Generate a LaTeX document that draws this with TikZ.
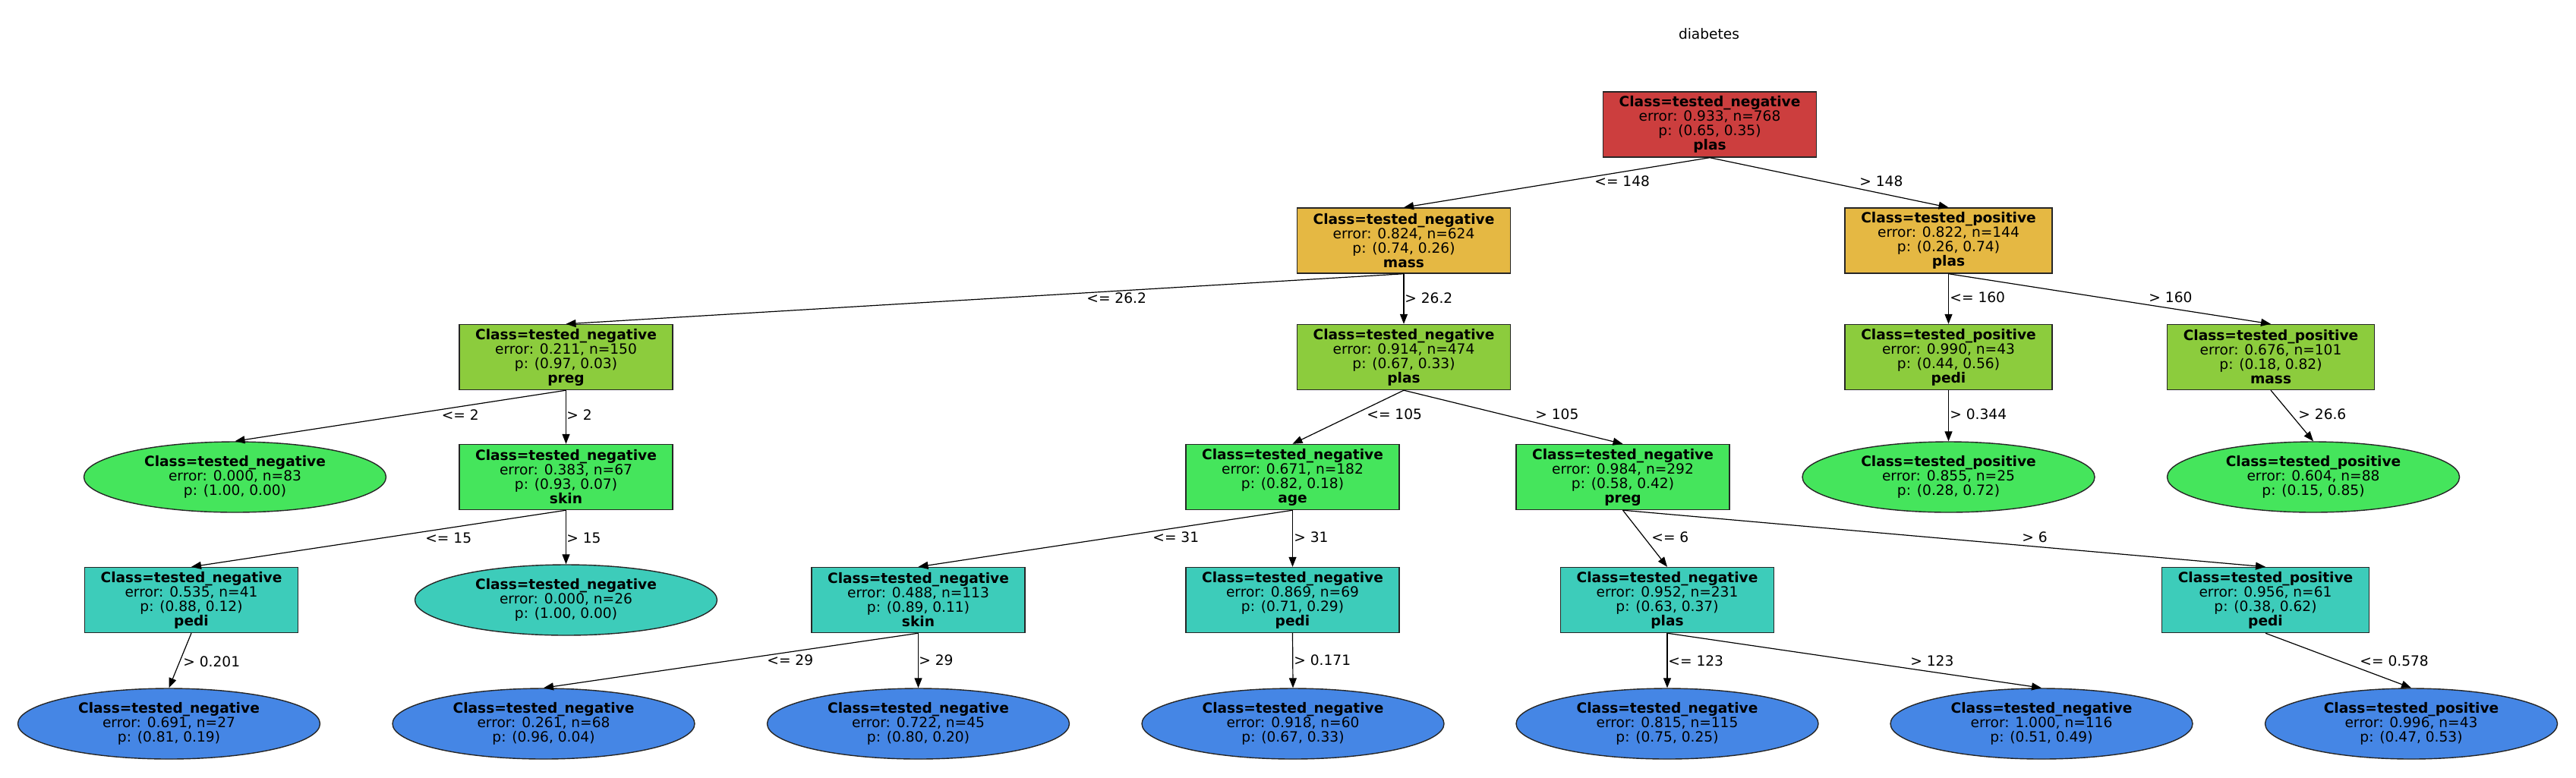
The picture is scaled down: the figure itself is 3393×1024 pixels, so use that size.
\documentclass[tikz,border=0pt]{standalone}
\usepackage{fontspec}
\setmainfont{DejaVu Sans}
\usetikzlibrary{shapes.geometric,arrows.meta}
\definecolor{cred}{RGB}{204,62,62}
\definecolor{corange}{RGB}{229,184,67}
\definecolor{clime}{RGB}{140,204,61}
\definecolor{cgreen}{RGB}{69,229,92}
\definecolor{cteal}{RGB}{61,204,186}
\definecolor{cblue}{RGB}{69,134,229}
\newcommand\boxtxt[4]{\textbf{Class=tested\_#1}\\error: #2\\p: #3\\\textbf{#4}}
\newcommand\leaftxt[3]{\textbf{Class=tested\_#1}\\error: #2\\p: #3}
\begin{document}
\begin{tikzpicture}[x=0.5pt,y=-0.5pt,
  every node/.style={font=\fontsize{9.3}{9.5}\selectfont},
  treenode/.style={draw=black!85,line width=0.7pt,align=center,inner sep=0pt},
  boxneg/.style={treenode,rectangle,minimum width=140.5pt,minimum height=43pt},
  boxpos/.style={treenode,rectangle,minimum width=136.5pt,minimum height=43pt},
  leafneg/.style={treenode,ellipse,minimum width=199pt,minimum height=46.5pt},
  leafpos/.style={treenode,ellipse,minimum width=192.5pt,minimum height=46.5pt},
  edge/.style={draw=black,line width=0.6pt,-{Triangle[length=6.5pt,width=5pt]}},
  lbl/.style={anchor=west,inner sep=0pt}]
\useasboundingbox (0,0) rectangle (3393,1024);
\node (title) at (2251,45) {diabetes};
% level 0
\node[boxneg,fill=cred] (root) at (2252,164) {\boxtxt{negative}{0.933, n=768}{(0.65, 0.35)}{plas}};
% level 1
\node[boxneg,fill=corange] (n1) at (1849,317) {\boxtxt{negative}{0.824, n=624}{(0.74, 0.26)}{mass}};
\node[boxpos,fill=corange] (n2) at (2566.5,317) {\boxtxt{positive}{0.822, n=144}{(0.26, 0.74)}{plas}};
% level 2
\node[boxneg,fill=clime] (n3) at (745.5,470.5) {\boxtxt{negative}{0.211, n=150}{(0.97, 0.03)}{preg}};
\node[boxneg,fill=clime] (n4) at (1849,470.5) {\boxtxt{negative}{0.914, n=474}{(0.67, 0.33)}{plas}};
\node[boxpos,fill=clime] (n5) at (2566.5,470.5) {\boxtxt{positive}{0.990, n=43}{(0.44, 0.56)}{pedi}};
\node[boxpos,fill=clime] (n6) at (2991,470.5) {\boxtxt{positive}{0.676, n=101}{(0.18, 0.82)}{mass}};
% level 3
\node[leafneg,fill=cgreen] (l83) at (309.5,628.5) {\leaftxt{negative}{0.000, n=83}{(1.00, 0.00)}};
\node[boxneg,fill=cgreen] (n7) at (745.5,628.5) {\boxtxt{negative}{0.383, n=67}{(0.93, 0.07)}{skin}};
\node[boxneg,fill=cgreen] (n8) at (1702.5,628.5) {\boxtxt{negative}{0.671, n=182}{(0.82, 0.18)}{age}};
\node[boxneg,fill=cgreen] (n9) at (2137.5,628.5) {\boxtxt{negative}{0.984, n=292}{(0.58, 0.42)}{preg}};
\node[leafpos,fill=cgreen] (l25) at (2566.5,628.5) {\leaftxt{positive}{0.855, n=25}{(0.28, 0.72)}};
\node[leafpos,fill=cgreen] (l88) at (3047,628.5) {\leaftxt{positive}{0.604, n=88}{(0.15, 0.85)}};
% level 4
\node[boxneg,fill=cteal] (n10) at (252,790.5) {\boxtxt{negative}{0.535, n=41}{(0.88, 0.12)}{pedi}};
\node[leafneg,fill=cteal] (l26) at (745.5,790.5) {\leaftxt{negative}{0.000, n=26}{(1.00, 0.00)}};
\node[boxneg,fill=cteal] (n11) at (1209.5,790.5) {\boxtxt{negative}{0.488, n=113}{(0.89, 0.11)}{skin}};
\node[boxneg,fill=cteal] (n12) at (1702.5,790.5) {\boxtxt{negative}{0.869, n=69}{(0.71, 0.29)}{pedi}};
\node[boxneg,fill=cteal] (n13) at (2196,790.5) {\boxtxt{negative}{0.952, n=231}{(0.63, 0.37)}{plas}};
\node[boxpos,fill=cteal] (n14) at (2984,790.5) {\boxtxt{positive}{0.956, n=61}{(0.38, 0.62)}{pedi}};
% level 5
\node[leafneg,fill=cblue] (l27) at (222.5,953.5) {\leaftxt{negative}{0.691, n=27}{(0.81, 0.19)}};
\node[leafneg,fill=cblue] (l68) at (716,953.5) {\leaftxt{negative}{0.261, n=68}{(0.96, 0.04)}};
\node[leafneg,fill=cblue] (l45) at (1209.5,953.5) {\leaftxt{negative}{0.722, n=45}{(0.80, 0.20)}};
\node[leafneg,fill=cblue] (l60) at (1703,953.5) {\leaftxt{negative}{0.918, n=60}{(0.67, 0.33)}};
\node[leafneg,fill=cblue] (l115) at (2196,953.5) {\leaftxt{negative}{0.815, n=115}{(0.75, 0.25)}};
\node[leafneg,fill=cblue] (l116) at (2689,953.5) {\leaftxt{negative}{1.000, n=116}{(0.51, 0.49)}};
\node[leafpos,fill=cblue] (l43) at (3176,953.5) {\leaftxt{positive}{0.996, n=43}{(0.47, 0.53)}};
% edges
\draw[edge] (root.south) -- (n1.north);
\draw[edge] (root.south) -- (n2.north);
\draw[edge] (n1.south) -- (n3.north);
\draw[edge] (n1.south) -- (n4.north);
\draw[edge] (n2.south) -- (n5.north);
\draw[edge] (n2.south) -- (n6.north);
\draw[edge] (n3.south) -- (l83.north);
\draw[edge] (n3.south) -- (n7.north);
\draw[edge] (n4.south) -- (n8.north);
\draw[edge] (n4.south) -- (n9.north);
\draw[edge] (n5.south) -- (l25.north);
\draw[edge] (n6.south) -- (l88.north);
\draw[edge] (n7.south) -- (n10.north);
\draw[edge] (n7.south) -- (l26.north);
\draw[edge] (n8.south) -- (n11.north);
\draw[edge] (n8.south) -- (n12.north);
\draw[edge] (n9.south) -- (n13.north);
\draw[edge] (n9.south) -- (n14.north);
\draw[edge] (n10.south) -- (l27.north);
\draw[edge] (n11.south) -- (l68.north);
\draw[edge] (n11.south) -- (l45.north);
\draw[edge] (n12.south) -- (l60.north);
\draw[edge] (n13.south) -- (l115.north);
\draw[edge] (n13.south) -- (l116.north);
\draw[edge] (n14.south) -- (l43.north);
% edge labels
\node[lbl] (e1) at (2100,239) {<= 148};
\node[lbl] (e2) at (2449,239) {> 148};
\node[lbl] (e3) at (1431,393) {<= 26.2};
\node[lbl] (e4) at (1850,393) {> 26.2};
\node[lbl] (e5) at (2568,392) {<= 160};
\node[lbl] (e6) at (2830,392) {> 160};
\node[lbl] (e7) at (581.5,547) {<= 2};
\node[lbl] (e8) at (746,547) {> 2};
\node[lbl] (e9) at (1800,546) {<= 105};
\node[lbl] (e10) at (2022,546) {> 105};
\node[lbl] (e11) at (2568,546) {> 0.344};
\node[lbl] (e12) at (3027,546) {> 26.6};
\node[lbl] (e13) at (560,709) {<= 15};
\node[lbl] (e14) at (746,709) {> 15};
\node[lbl] (e15) at (1518,708) {<= 31};
\node[lbl] (e16) at (1704,708) {> 31};
\node[lbl] (e17) at (2175,708) {<= 6};
\node[lbl] (e18) at (2663,708) {> 6};
\node[lbl] (e19) at (241,872) {> 0.201};
\node[lbl] (e20) at (1010,870) {<= 29};
\node[lbl] (e21) at (1210,870) {> 29};
\node[lbl] (e22) at (1704,870) {> 0.171};
\node[lbl] (e23) at (2197,871) {<= 123};
\node[lbl] (e24) at (2516,871) {> 123};
\node[lbl] (e25) at (3108,871) {<= 0.578};
\end{tikzpicture}
\end{document}
